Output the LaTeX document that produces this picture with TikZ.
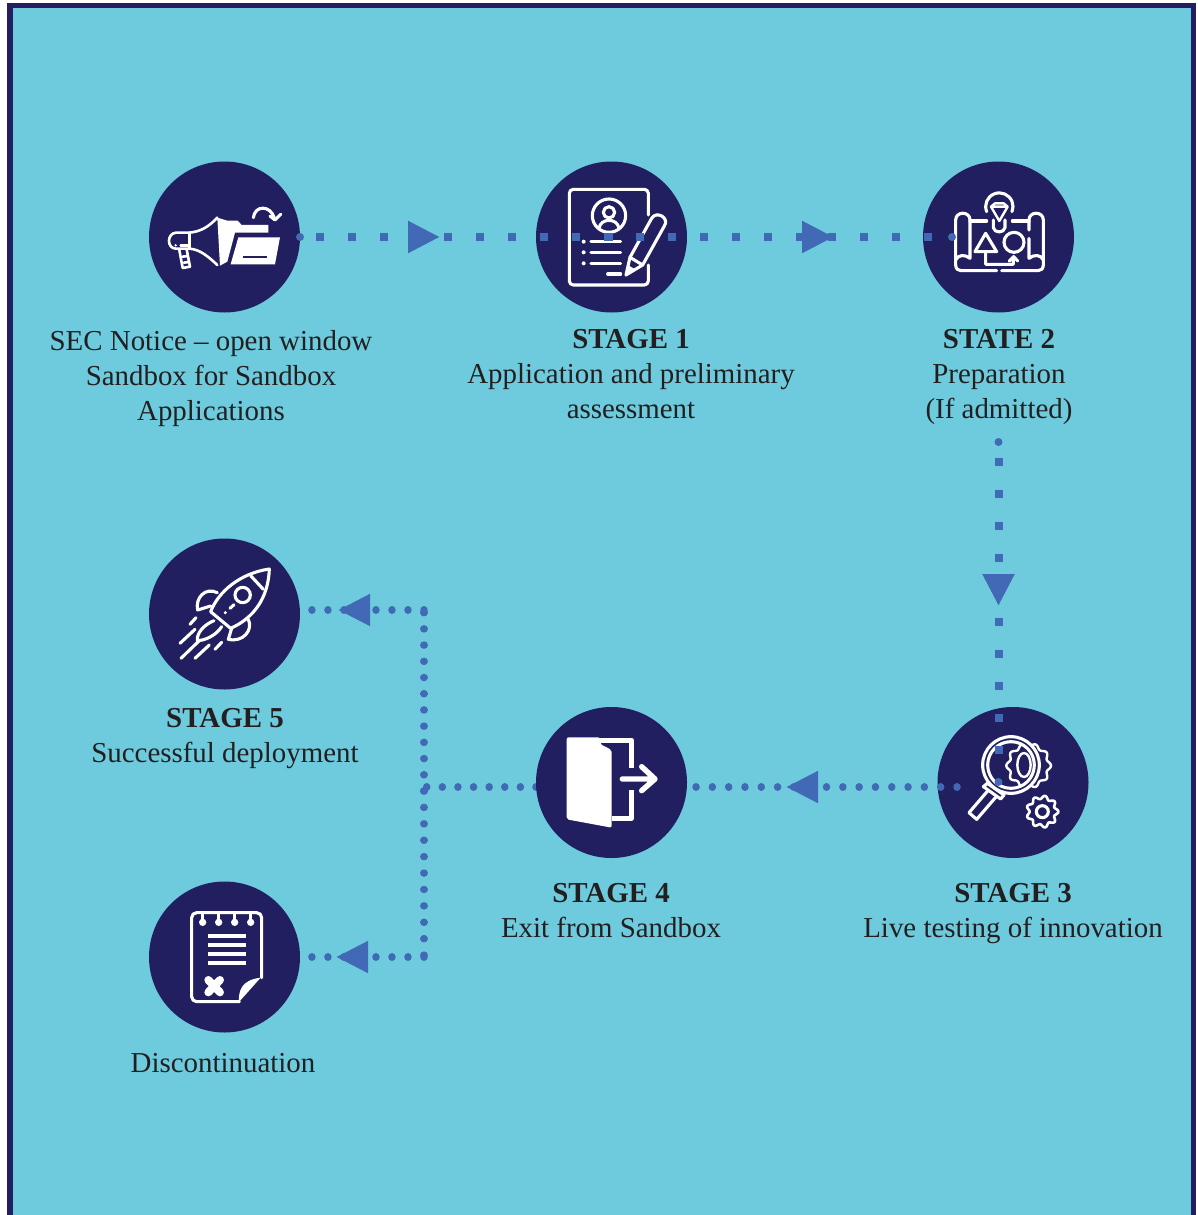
\documentclass[tikz,border=0pt]{standalone}
\usepackage{fontspec}
\setmainfont{Liberation Serif}
\usetikzlibrary{arrows.meta,decorations.markings}
\definecolor{skybg}{HTML}{6DCBDD}
\definecolor{navy}{HTML}{211F5F}
\definecolor{linkblue}{HTML}{4169B5}
\definecolor{inkdark}{HTML}{231F20}
\tikzset{
  zoomat/.style 2 args={shift={(#1,#2)},x=.3333pt,y=-.3333pt},
  stagedisc/.style={circle,fill=navy,minimum size=151pt,inner sep=0pt},
  iconline/.style={draw=white,line width=3.1pt,line cap=round,line join=round},
  label/.style={text=inkdark,font=\fontsize{28.9}{35}\selectfont,align=center,anchor=base,inner sep=0pt},
  squarelink/.style={draw=linkblue,line width=8pt,dash pattern=on 8pt off 24pt},
  rounddots/.style={draw=linkblue,line width=7.5pt,line cap=round,dash pattern=on 0.01pt off #1},
  midtip/.style={postaction={decorate},decoration={markings,mark=at position #1 with {\arrow[linkblue]{Triangle[length=32pt,width=30pt]}}}},
}
\begin{document}
\begin{tikzpicture}[x=1pt,y=-1pt]
\useasboundingbox (0,0) rectangle (1198,1215);
\fill[white] (0,0) rectangle (1198,1215);
\fill[skybg] (10,5) rectangle (1193,1215);
\draw[navy,line width=5.5pt] (10,1215) -- (10,5.5) -- (1193.5,5.5) -- (1193.5,1215);

\coordinate (c0e) at (300,237);
\coordinate (c2w) at (952,237);
\coordinate (c2s) at (998.5,442);
\coordinate (c3n) at (998.5,782);
\coordinate (c3w) at (957,787);
\coordinate (c4e) at (695,787);
\coordinate (c4w) at (536,787);
\coordinate (bj) at (426,787);
\coordinate (bm) at (424,791);
\coordinate (bt) at (424,610);
\coordinate (bb) at (424,957);
\coordinate (c5e) at (311,610);
\coordinate (c6e) at (311,957);

% connector that runs behind the Stage 4 disc
\draw[rounddots=15.6pt] (c4w) -- (bj);

\node[stagedisc] (n0) at (224.5,237) {};
\node[stagedisc] (n1) at (611.5,237) {};
\node[stagedisc] (n2) at (998.5,237) {};
\node[stagedisc] (n3) at (1013,782.5) {};
\node[stagedisc] (n4) at (611.5,782.5) {};
\node[stagedisc] (n5) at (224.5,614) {};
\node[stagedisc] (n6) at (224.5,957) {};

% icon: megaphone and folder
\begin{scope}[zoomat={140}{150}]
  \draw[iconline,line width=2.6pt] (232,203) .. controls (205,232) and (180,245) .. (148,248) -- (108,248) .. controls (80,250) and (80,296) .. (108,296) -- (148,296) .. controls (180,298) and (205,320) .. (232,345);
  \draw[iconline,line width=2.6pt] (148,248) -- (148,296) (122,286) -- (148,286);
  \fill[white] (107,286) circle[radius=4];
  \draw[iconline,line width=2.6pt] (118,300) -- (128,354) -- (150,350) -- (140,298) (128,320) -- (143,318) (132,338) -- (147,336);
  \fill[white] (232,203) -- (262,212) -- (293,212) -- (305,225) -- (385,225) -- (385,248) -- (285,248) -- (262,335) -- (240,347) -- cycle;
  \fill[white] (295,262) -- (420,262) -- (405,343) -- (272,343) -- cycle;
  \fill[navy] (308,317) rectangle (380,325);
  \draw[iconline] (340,203) .. controls (345,165) and (390,165) .. (403,203);
  \draw[iconline] (390,198) -- (405,210) -- (422,193);
\end{scope}

% icon: application form and pencil
\begin{scope}[zoomat={530}{150}]
  \draw[iconline,rounded corners=4pt] (355,195) -- (355,118) -- (118,118) -- (118,405) -- (355,405) -- (355,345);
  \draw[iconline] (237,197) circle[radius=50];
  \draw[iconline] (237,187) circle[radius=17];
  \draw[iconline] (207,235) .. controls (212,203) and (262,203) .. (267,235);
  \foreach \yy in {275,307,340} {
    \fill[white] (161,\yy) circle[radius=6];
    \draw[iconline] (183,\yy) -- (272,\yy);
  }
  \draw[iconline] (233,372) -- (272,372);
  \draw[iconline] (288,375) -- (300,322) -- (365,205) .. controls (380,180) and (420,205) .. (403,228) -- (338,345) -- cycle;
  \draw[iconline] (300,322) -- (338,345);
  \fill[white] (288,375) -- (293,345) -- (316,358) -- cycle;
\end{scope}

% icon: plan with bulb
\begin{scope}[zoomat={915}{155}]
  \draw[iconline] (215,170) arc[start angle=158,end angle=382,radius=41];
  \draw[iconline] (235,195) -- (235,218) .. controls (238,235) and (267,235) .. (270,218) -- (270,195);
  \draw[iconline,line width=2.4pt] (228,155) -- (278,155) -- (253,198) -- cycle (240,145) -- (266,145) (228,155) -- (240,145) (278,155) -- (266,145);
  \draw[iconline] (122,315) -- (122,195) .. controls (122,168) and (165,168) .. (165,195) -- (165,310) .. controls (150,298) and (130,298) .. (122,315) -- (122,330) .. controls (122,342) and (130,347) .. (138,347) -- (245,347);
  \draw[iconline] (385,315) -- (385,195) .. controls (385,168) and (342,168) .. (342,195) -- (342,225) (342,250) -- (342,310) .. controls (357,298) and (377,298) .. (385,315) -- (385,330) .. controls (385,342) and (377,347) .. (369,347) -- (260,347);
  \draw[iconline] (165,198) -- (215,198) (292,198) -- (342,198);
  \draw[iconline] (212,235) -- (245,290) -- (180,290) -- cycle;
  \draw[iconline] (297,262) circle[radius=30];
  \draw[iconline] (212,292) -- (212,328) -- (295,328) -- (295,310) (283,318) -- (296,305) -- (308,318);
\end{scope}

% icon: magnifier and gears
\begin{scope}[zoomat={930}{700}]
  \draw[iconline,line width=2.4pt] plot[domain=0:360,samples=145] ([shift={(296,197)}]\x:{62+5*cos(10*\x)}) -- cycle;
  \draw[iconline,line width=2.4pt] (282,195) ellipse[x radius=20,y radius=36];
  \draw[navy,line width=6pt] (243,195) circle[radius=78];
  \draw[iconline] (243,195) circle[radius=85];
  \draw[iconline] (243,195) circle[radius=70];
  \draw[iconline] (160,260) -- (172,250) -- (222,285) -- (212,297) -- cycle;
  \draw[iconline] (172,274) -- (117,338) -- (140,358) -- (197,292);
  \draw[iconline,line width=2.6pt] plot[domain=0:360,samples=145] ([shift={(337,335)}]\x:{43+5*cos(9*\x)}) -- cycle;
  \draw[iconline] (337,335) circle[radius=18];
\end{scope}

% icon: door with exit arrow
\begin{scope}[zoomat={530}{700}]
  \fill[white,rounded corners=2pt] (110,112) -- (210,112) -- (210,132) -- (245,150) -- (245,383) -- (110,358) -- cycle;
  \draw[iconline,line width=5pt,line cap=butt] (205,120) -- (305,120) -- (305,203);
  \draw[iconline,line width=5pt,line cap=butt] (305,270) -- (305,355) -- (245,355);
  \draw[iconline,line width=5.4pt] (277,237) -- (372,237) (335,200) -- (375,237) -- (335,272);
\end{scope}

% icon: rocket
\begin{scope}[zoomat={140}{530}]
  \draw[iconline] (388,117) .. controls (300,130) and (235,185) .. (212,245) -- (272,295) .. controls (340,265) and (385,205) .. (388,117) -- cycle;
  \draw[iconline] (332,137) -- (370,178);
  \draw[iconline] (308,195) circle[radius=23];
  \fill[white] (256,248) circle[radius=5];
  \draw[iconline] (270,235) -- (282,224);
  \draw[iconline] (232,188) .. controls (195,170) and (165,205) .. (173,240) -- (212,228);
  \draw[iconline] (325,268) .. controls (340,300) and (310,338) .. (265,328) -- (275,295);
  \draw[iconline] (222,272) .. controls (190,285) and (170,310) .. (172,332) .. controls (195,332) and (230,315) .. (245,290);
  \draw[iconline] (150,283) -- (168,263) (120,340) -- (165,298) (123,385) -- (180,330) (165,385) -- (208,345) (225,358) -- (245,337);
\end{scope}

% icon: notepad with cross
\begin{scope}[zoomat={140}{875}]
  \draw[iconline,rounded corners=5pt] (365,308) -- (365,113) -- (155,113) -- (155,380) -- (298,380);
  \foreach \xx in {188,236,284,332} {
    \fill[white] (\xx,142) circle[radius=11];
    \draw[iconline] (\xx,116) -- (\xx,142);
  }
  \foreach \yy in {183,210,237,264} {
    \draw[iconline,line width=4pt,line cap=butt] (203,\yy) -- (319,\yy);
  }
  \draw[iconline,line width=8pt] (205,315) -- (240,352) (240,315) -- (205,352);
  \fill[white] (296,382) .. controls (296,345) and (305,315) .. (362,308) -- cycle;
\end{scope}

% connectors
\draw[squarelink,dash phase=16pt,midtip=140pt] (c0e) -- (n1.center);
\draw[squarelink,dash phase=7.5pt,midtip=222.5pt] (n1.center) -- (c2w);
\fill[linkblue] (c0e) circle[radius=4];
\fill[linkblue] (c2w) circle[radius=4];
\draw[squarelink,dash phase=16pt,midtip=164pt,shorten >=8pt] (c2s) -- (c3n);
\fill[linkblue] (c2s) circle[radius=4];
\fill[linkblue] (c3n) circle[radius=4];
\draw[rounddots=16.3pt,midtip=171pt] (c3w) -- (c4e);
\draw[rounddots=16.2pt] (bm) -- (bt);
\draw[rounddots=16.4pt] (bm) -- (bb);
\draw[rounddots=16pt,midtip=86pt] (bt) -- (c5e);
\draw[rounddots=16pt,midtip=88pt] (bb) -- (c6e);

% labels
\node[label] (t0) at (211,420) {SEC Notice – open window\\Sandbox for Sandbox\\Applications};
\node[label] (t1) at (631,418) {\textbf{STAGE 1}\\Application and preliminary\\assessment};
\node[label] (t2) at (999,418) {\textbf{STATE 2}\\Preparation\\(If admitted)};
\node[label] (t5) at (225,762) {\textbf{STAGE 5}\\Successful deployment};
\node[label] (t4) at (611,937) {\textbf{STAGE 4}\\Exit from Sandbox};
\node[label] (t3) at (1013,937) {\textbf{STAGE 3}\\Live testing of innovation};
\node[label] (t6) at (223,1072) {Discontinuation};
\end{tikzpicture}
\end{document}
